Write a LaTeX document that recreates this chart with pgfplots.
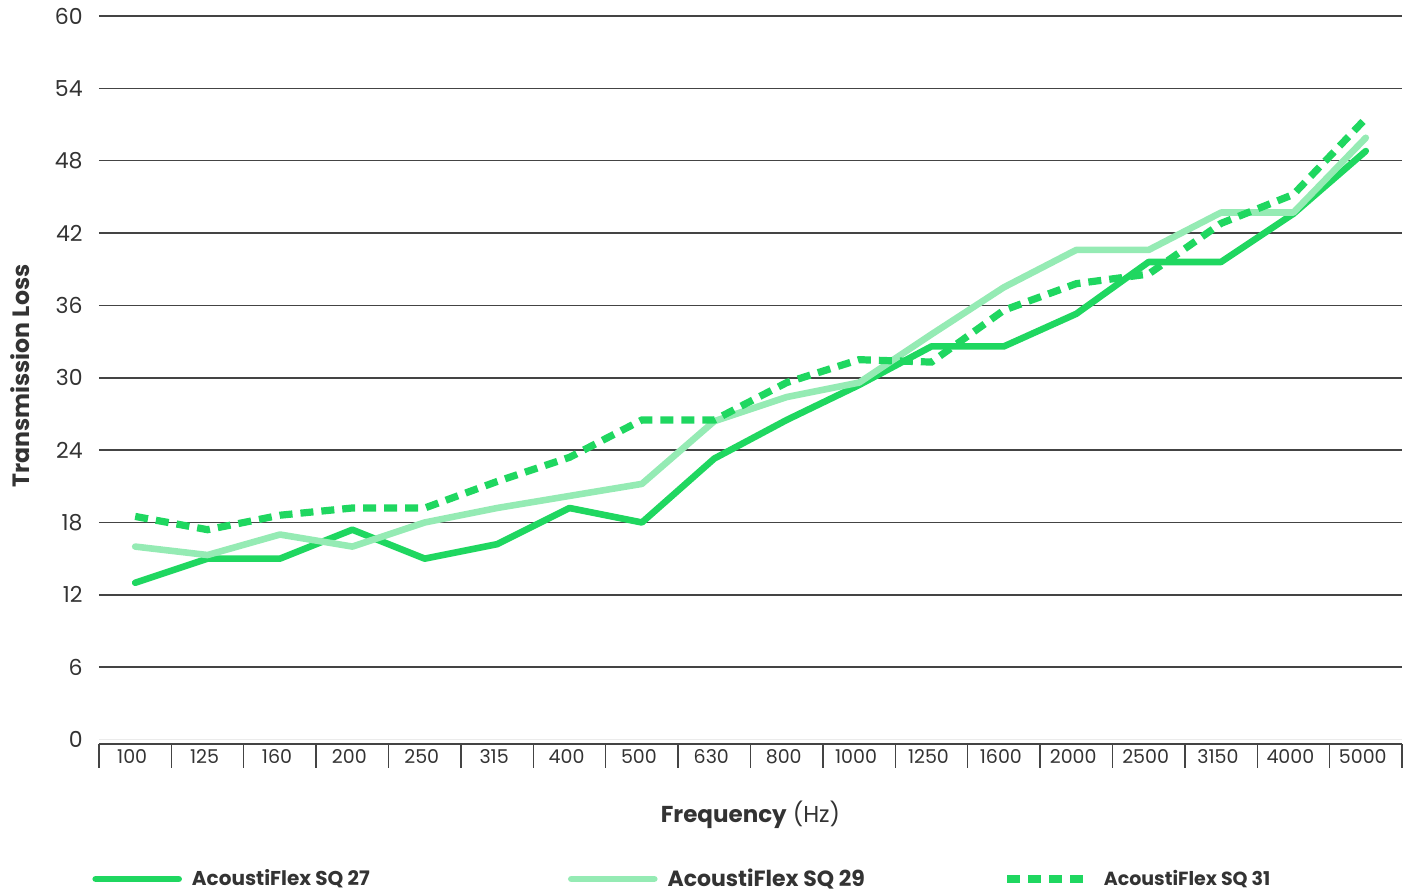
\documentclass[border=0pt]{standalone}
\usepackage{pgfplots}
\pgfplotsset{compat=1.18}
\usepackage{fontspec}
\setmainfont{Poppins}
\definecolor{dkgreen}{HTML}{1FD760}
\definecolor{ltgreen}{HTML}{95EBB4}
\definecolor{gridc}{HTML}{444444}
\definecolor{txt}{HTML}{333333}
\begin{document}
\begin{tikzpicture}
\useasboundingbox (-49.5pt,-74.5pt) rectangle (658pt,372pt);
\begin{axis}[
  scale only axis=true,
  width=651.5pt, height=364pt,
  xmin=-0.5, xmax=17.5,
  ymin=-0.37, ymax=60,
  axis x line=bottom, axis y line=left,
  x axis line style={-, draw=gridc, line width=0.9pt},
  y axis line style={draw=none},
  ytick={6,12,...,60},
  extra y ticks={0},
  extra y tick style={grid style={draw=black!8, line width=0.9pt}},
  ymajorgrids=true,
  grid style={draw=gridc, line width=0.8pt},
  ytick style={draw=none},
  yticklabel style={anchor=east, inner sep=0pt, xshift=-8pt, font=\fontsize{11pt}{13pt}\selectfont, text=txt},
  /pgf/number format/assume math mode=true,
  xtick={0,...,17},
  xticklabels={100,125,160,200,250,315,400,500,630,800,1000,1250,1600,2000,2500,3150,4000,5000},
  xticklabel style={anchor=center, yshift=-6.5pt, xshift=-1.5pt, font=\fontsize{9.5pt}{11pt}\selectfont, text=txt},
  minor xtick={-0.5,0.5,...,17.5},
  tick align=outside,
  major tick length=0pt,
  minor tick length=12pt,
  minor x tick style={draw=gridc, line width=0.7pt},
  xlabel={\textbf{Frequency} (Hz)},
  xlabel style={at={(axis description cs:0.5,0)}, anchor=center, yshift=-35.5pt, font=\fontsize{11.5pt}{13pt}\selectfont, text=txt},
  ylabel={\textbf{Transmission Loss}},
  ylabel style={at={(axis description cs:0,0.5)}, anchor=center, yshift=39.5pt, xshift=2pt, font=\fontsize{11.8pt}{13pt}\selectfont, text=txt},
  legend columns=3,
  legend style={at={(axis description cs:0,0)}, anchor=west, xshift=-3.5pt, yshift=-67.5pt, draw=none, fill=none, inner sep=0pt,
    nodes={inner sep=0pt, text=txt}, /tikz/every odd column/.append style={column sep=5pt}},
  legend cell align=left,
  legend image code/.code={\draw[#1] (0pt,0pt) -- (41.5pt,0pt);},
]
\addplot[dkgreen, line width=3.3pt, line cap=round, line join=round] coordinates {
(0,13) (1,15) (2,15) (3,17.4) (4,15) (5,16.2) (6,19.2) (7,18) (8,23.3) (9,26.5)
(10,29.4) (11,32.6) (12,32.6) (13,35.3) (14,39.6) (15,39.6) (16,43.6) (17,48.8)};
\addlegendentry{\makebox[188pt][l]{\fontsize{10pt}{12pt}\selectfont\bfseries AcoustiFlex SQ 27}}
\addplot[ltgreen, line width=3.3pt, line cap=round, line join=round] coordinates {
(0,16) (1,15.3) (2,17) (3,16) (4,18) (5,19.2) (6,20.2) (7,21.2) (8,26.4) (9,28.4)
(10,29.6) (11,33.6) (12,37.5) (13,40.6) (14,40.6) (15,43.7) (16,43.7) (17,49.9)};
\addlegendentry{\makebox[168pt][l]{\fontsize{11pt}{13pt}\selectfont\bfseries AcoustiFlex SQ 29}}
\addplot[dkgreen, line width=3.6pt, dash pattern=on 6.5pt off 4pt] coordinates {
(0,18.5) (1,17.4) (2,18.6) (3,19.2) (4,19.2) (5,21.4) (6,23.4) (7,26.5) (8,26.5) (9,29.6)
(10,31.5) (11,31.3) (12,35.6) (13,37.8) (14,38.6) (15,42.8) (16,45.2) (17,51.5)};
\addlegendentry{\fontsize{9.5pt}{11pt}\selectfont\bfseries AcoustiFlex SQ 31}
\end{axis}
\end{tikzpicture}
\end{document}
